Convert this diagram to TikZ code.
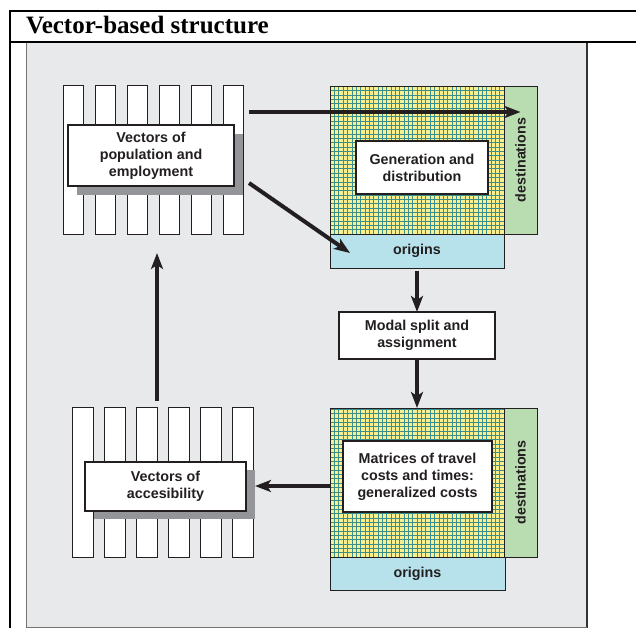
\documentclass[tikz,border=0pt]{standalone}
\usepackage{fontspec}
\setmainfont{Liberation Serif}
\newfontfamily\boxfont{Liberation Sans}
\usetikzlibrary{positioning,arrows.meta}
\definecolor{panelgrey}{HTML}{E8E9EB}
\definecolor{inkdark}{HTML}{231F20}
\definecolor{shadegrey}{HTML}{939598}
\definecolor{gridyellow}{HTML}{F9EF8E}
\definecolor{gridteal}{HTML}{3A8F8C}
\definecolor{destgreen}{HTML}{B9DDB1}
\definecolor{origblue}{HTML}{B8E2EB}

\begin{document}
\begin{tikzpicture}[x=1pt, y=-1pt,
    every node/.style={inner sep=0pt, outer sep=0pt},
    frameline/.style={line width=2pt, black},
    vec/.style={draw=inkdark, line width=1pt, fill=white, minimum width=20pt, minimum height=148pt, anchor=north west},
    box/.style={draw=inkdark, line width=1.1pt, fill=white, align=center, text=inkdark,
      font=\boxfont\bfseries\fontsize{14.3}{17}\selectfont, minimum width=#1},
    box/.default=100pt,
    shadow/.style={fill=shadegrey, anchor=north west},
    matrixcell/.style={fill=gridyellow, draw=inkdark, line width=0.9pt, minimum width=174pt, minimum height=148pt, anchor=north west},
    gridline/.style={gridteal, line width=0.5pt},
    bar/.style={draw=inkdark, line width=0.9pt, fill=#1, text=inkdark, font=\boxfont\bfseries\fontsize{14.3}{17}\selectfont},
    arr/.style={-{Stealth[length=16pt, width=12pt, inset=4pt]}, line width=4pt, inkdark}]
    \useasboundingbox (0,0) rectangle (636,628);
    % frame and panel
    \fill[panelgrey] (26,43) rectangle (587,627);
    \draw[black!55, line width=0.8pt] (26,628) -- (26,43);
    \draw[black!80, line width=1.2pt] (587,43) -- (587,628);
    \draw[black!55, line width=0.8pt] (26,627) -- (587,627);
    \draw[frameline] (9,11) -- (636,11);
    \draw[frameline] (10,42) -- (636,42);
    \draw[frameline] (10,10) -- (10,628);
    \node[anchor=base west, font=\bfseries\fontsize{25}{29}\selectfont] (title) at (26,33.5) {Vector-based structure};
    % vectors of population and employment
    \foreach \i in {1,...,6}
      \node[vec] (vt\i) at ({63+32*(\i-1)},86) {};
    \node[shadow, minimum width=166pt, minimum height=61pt] (popshade) at (77,134) {};
    \node[box=166pt, minimum height=61pt, anchor=north west] (popbox) at (68,125) {Vectors of\\population and\\employment};
    % vectors of accesibility
    \foreach \i in {1,...,6}
      \node[vec, minimum width=21pt, minimum height=150pt] (vb\i) at ({72+32*(\i-1)},407) {};
    \node[shadow, minimum width=161pt, minimum height=49pt] (accshade) at (94,470) {};
    \node[box=161pt, minimum height=49pt, anchor=north west] (accbox) at (85,462) {Vectors of\\accesibility};
    % generation and distribution matrix
    \node[matrixcell] (grid1) at (330,86) {};
    \draw[gridline, shift={(grid1.south west)}] (0pt,0pt) grid[step=4.35pt] (174pt,148pt);
    \draw[inkdark, line width=0.9pt] (grid1.south west) rectangle (grid1.north east);
    \node[bar=destgreen, minimum width=33pt, minimum height=148pt, right=0pt of grid1] (dest1) {};
    \node[rotate=90, text=inkdark, font=\boxfont\bfseries\fontsize{14.3}{17}\selectfont] (dlab1) at (dest1.center) {destinations};
    \node[bar=origblue, minimum width=174pt, minimum height=34pt, below=0pt of grid1] (orig1) {origins};
    \node[box=132pt, minimum height=53pt, anchor=north west] (genbox) at (356,141) {Generation and\\distribution};
    % modal split
    \node[box=156pt, minimum height=47pt, anchor=north west] (modal) at (339,312) {Modal split and\\assignment};
    % matrices of travel costs
    \node[matrixcell, minimum height=149pt] (grid2) at (330,408) {};
    \draw[gridline, shift={(grid2.south west)}] (0pt,0pt) grid[step=4.35pt] (174pt,149pt);
    \draw[inkdark, line width=0.9pt] (grid2.south west) rectangle (grid2.north east);
    \node[bar=destgreen, minimum width=33pt, minimum height=149pt, right=0pt of grid2] (dest2) {};
    \node[rotate=90, text=inkdark, font=\boxfont\bfseries\fontsize{14.3}{17}\selectfont] (dlab2) at (dest2.center) {destinations};
    \node[bar=origblue, minimum width=175pt, minimum height=33pt, below=0pt of grid2.south west, anchor=north west] (orig2) {origins};
    \node[box=149pt, minimum height=71pt, anchor=north west] (matbox) at (343,441) {Matrices of travel\\costs and times:\\generalized costs};
    % connectors
    \coordinate (toptail) at (249,112);
    \coordinate (diagtail) at (249,183);
    \coordinate (diagtip) at (350,253);
    \coordinate (uptail) at (157,401);
    \coordinate (uptip) at (157,253);
    \coordinate (lefttail) at (330,486);
    \draw[arr, line width=4.6pt] (toptail) -- (toptail -| dest1.center);
    \draw[arr] (diagtail) -- (diagtip);
    \draw[arr] ([yshift=-3pt]orig1.south) -- (modal.north);
    \draw[arr] (modal.south) -- (grid2.north);
    \draw[arr] (lefttail) -- (lefttail -| accshade.east);
    \draw[arr] (uptail) -- (uptip);
\end{tikzpicture}
\end{document}
